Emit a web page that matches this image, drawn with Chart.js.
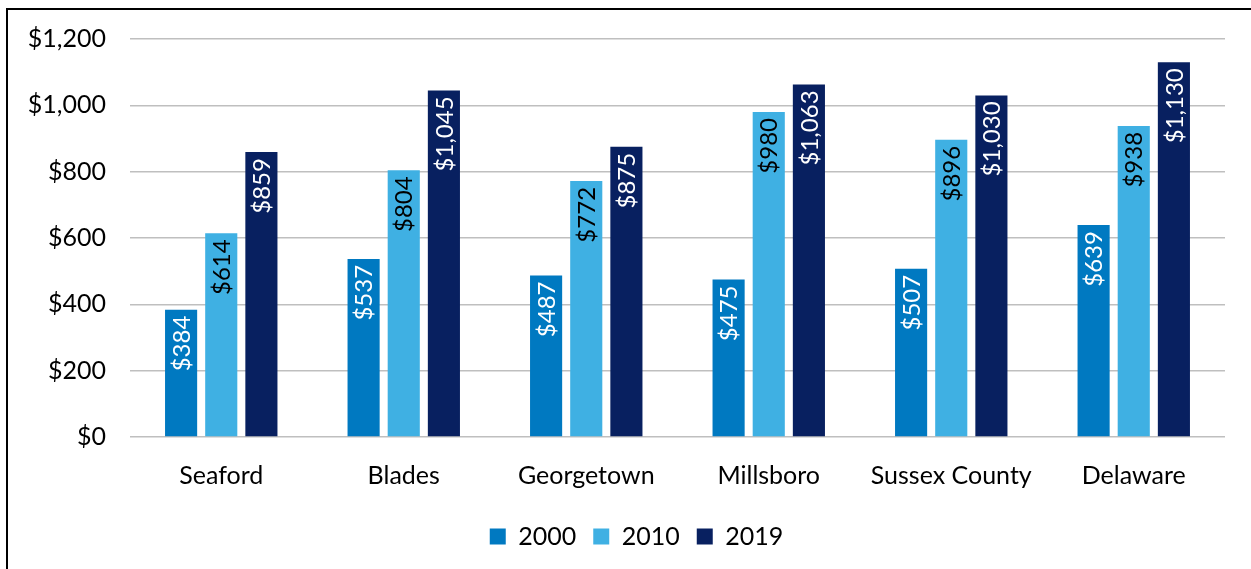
<!DOCTYPE html>
<html>
<head>
<meta charset="utf-8">
<script src="https://cdn.jsdelivr.net/npm/chart.js@4"></script>
<style>
  html, body { margin: 0; padding: 0; background: #fff; overflow: hidden; }
  #wrap { position: relative; width: 1251px; height: 569px; }
  #frame { position: absolute; left: 6px; top: 8px; width: 1260px; height: 580px; border: 2px solid #000; box-sizing: border-box; pointer-events: none; }
  canvas { position: absolute; left: 0; top: 0; }
</style>
</head>
<body>
<div id="wrap">
  <canvas id="rentChart" width="1251" height="569"></canvas>
  <div id="frame"></div>
</div>
<script>
var places = ['Seaford', 'Blades', 'Georgetown', 'Millsboro', 'Sussex County', 'Delaware'];
var rent2000 = [384, 537, 487, 475, 507, 639];
var rent2010 = [614, 804, 772, 980, 896, 938];
var rent2019 = [859, 1045, 875, 1063, 1030, 1130];
var yTicks = [0, 200, 400, 600, 800, 1000, 1200];

var FONT = 'Lato, "Noto Sans", sans-serif';

function money(v) {
    return '$' + v.toLocaleString('en-US');
}

var barLabels = {
    id: 'barLabels',
    afterDatasetsDraw: function (chart) {
        var ctx = chart.ctx;
        chart.data.datasets.forEach(function (ds, i) {
            var meta = chart.getDatasetMeta(i);
            meta.data.forEach(function (bar, j) {
                ctx.save();
                ctx.translate(bar.x, bar.y + 6);
                ctx.rotate(-Math.PI / 2);
                ctx.font = '24px ' + FONT;
                ctx.fillStyle = ds.labelColor;
                ctx.textAlign = 'right';
                ctx.textBaseline = 'middle';
                ctx.fillText(money(ds.data[j]), 0, 1);
                ctx.restore();
            });
        });
    }
};

// legend sits a little right of centre in the original
var nudgeLegend = {
    id: 'nudgeLegend',
    afterLayout: function (chart) {
        if (chart.legend) {
            chart.legend.left += 17;
            chart.legend.right += 17;
        }
    }
};

var ctx = document.getElementById('rentChart').getContext('2d');
new Chart(ctx, {
    type: 'bar',
    data: {
        labels: places,
        datasets: [
            { label: '2000', data: rent2000, backgroundColor: '#0079C1', labelColor: '#ffffff' },
            { label: '2010', data: rent2010, backgroundColor: '#3FB0E3', labelColor: '#000000' },
            { label: '2019', data: rent2019, backgroundColor: '#082060', labelColor: '#ffffff' }
        ]
    },
    options: {
        responsive: false,
        animation: false,
        devicePixelRatio: 1,
        layout: { padding: { top: 30, right: 26, bottom: 10, left: 14 } },
        datasets: {
            bar: { categoryPercentage: 0.66, barPercentage: 0.8 }
        },
        plugins: {
            legend: {
                position: 'bottom',
                labels: {
                    font: { size: 25, family: FONT },
                    color: '#000',
                    boxWidth: 16,
                    boxHeight: 16,
                    padding: 17
                }
            },
            tooltip: { enabled: false }
        },
        scales: {
            x: {
                grid: { display: false },
                border: { display: false },
                ticks: { font: { size: 25, family: FONT }, color: '#000', padding: 16 }
            },
            y: {
                min: 0,
                max: 1200,
                afterBuildTicks: function (axis) {
                    axis.ticks = yTicks.map(function (v) { return { value: v }; });
                },
                afterFit: function (axis) { axis.width = 116; },
                grid: { color: '#BFBFBF', lineWidth: 1.5, drawTicks: false },
                border: { display: false },
                ticks: {
                    font: { size: 25, family: FONT },
                    color: '#000',
                    padding: 24,
                    callback: function (v) { return money(v); }
                }
            }
        }
    },
    plugins: [barLabels, nudgeLegend]
});
</script>
</body>
</html>
